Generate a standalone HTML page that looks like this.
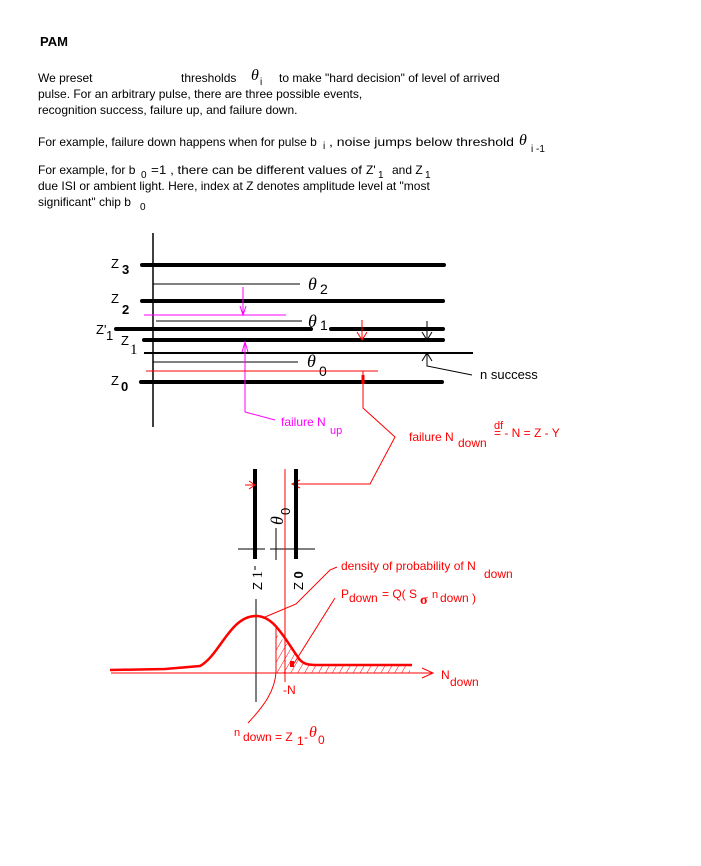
<!DOCTYPE html>
<html><head><meta charset="utf-8"><style>
html,body{margin:0;padding:0;background:#fff;}
svg{display:block;font-family:"Liberation Sans",Arial,sans-serif;}
</style></head><body>
<svg width="701" height="866" viewBox="0 0 701 866" xmlns="http://www.w3.org/2000/svg">
<defs>
<pattern id="h" width="6" height="6" patternUnits="userSpaceOnUse" patternTransform="rotate(30)">
<line x1="0" y1="0" x2="0" y2="6" stroke="#f00" stroke-width="1"/>
</pattern>
</defs>
<text x="40" y="46" font-size="13" font-weight="bold">PAM</text>
<g font-size="12" fill="#000">
<text x="38" y="82">We preset</text>
<text x="181" y="82">thresholds</text>
<text x="251" y="80" font-family="Liberation Serif,serif" font-style="italic" font-size="16">θ</text>
<text x="260" y="85" font-size="10">i</text>
<text x="279" y="82">to make "hard decision" of level of arrived</text>
<text x="38" y="98">pulse. For an arbitrary pulse, there are three possible events,</text>
<text x="38" y="114">recognition success, failure up, and failure down.</text>
<text x="38" y="146">For example, failure down happens when for pulse b</text>
<text x="323" y="149" font-size="10">i</text>
<text x="329" y="146" textLength="185" lengthAdjust="spacingAndGlyphs">, noise jumps below threshold</text>
<text x="519" y="145" font-family="Liberation Serif,serif" font-style="italic" font-size="16">θ</text>
<text x="531" y="152" font-size="10">i -1</text>
<text x="38" y="174">For example, for b</text>
<text x="141" y="178" font-size="10">0</text>
<text x="151" y="174" textLength="211" lengthAdjust="spacingAndGlyphs">=1 , there can be different values of</text>
<text x="366" y="174">Z'</text>
<text x="378" y="178" font-size="10">1</text>
<text x="392" y="174">and Z</text>
<text x="425" y="178" font-size="10">1</text>
<text x="38" y="190">due ISI or ambient light. Here, index at Z denotes amplitude level at "most</text>
<text x="38" y="206">significant" chip b</text>
<text x="140" y="210" font-size="10">0</text>
</g>

<!-- upper diagram -->
<line x1="153" y1="233" x2="153" y2="427" stroke="#000" stroke-width="1.5"/>
<g stroke="#000" stroke-width="4" stroke-linecap="round">
<line x1="142" y1="265" x2="444" y2="265"/>
<line x1="142" y1="301" x2="443" y2="301"/>
<line x1="116" y1="329" x2="311" y2="329"/>
<line x1="331" y1="329" x2="443" y2="329"/>
<line x1="144" y1="340" x2="443" y2="340"/>
<line x1="141" y1="382" x2="442" y2="382"/>
</g>
<g stroke="#000" stroke-width="1">
<line x1="153" y1="284" x2="300" y2="284"/>
<line x1="156" y1="321" x2="302" y2="321"/>
<line x1="144" y1="353" x2="473" y2="353" stroke-width="2"/>
<line x1="153" y1="362" x2="298" y2="362"/>
<line x1="427" y1="321" x2="427" y2="340"/>
<polyline points="422,332 427,340 432,332" fill="none"/>
<polyline points="422,361 427,353 432,361" fill="none"/>
<polyline points="427,353 427,366 472,375" fill="none"/>
</g>
<g font-size="13">
<text x="111" y="268">Z</text><text x="122" y="274" font-weight="bold">3</text>
<text x="111" y="303">Z</text><text x="122" y="314" font-weight="bold">2</text>
<text x="96" y="334">Z'</text><text x="106" y="340">1</text>
<text x="121" y="345">Z</text><text x="130" y="354" font-family="Liberation Serif,serif" font-size="15">1</text>
<text x="111" y="385">Z</text><text x="121" y="391" font-weight="bold">0</text>
<text x="480" y="379">n success</text>
</g>
<g font-family="Liberation Serif,serif" font-style="italic" font-size="18">
<text x="308" y="290">θ</text><text x="308" y="327">θ</text><text x="307" y="367">θ</text>
</g>
<g font-size="14"><text x="320" y="294">2</text><text x="320" y="330">1</text><text x="319" y="376">0</text></g>
<!-- magenta -->
<g stroke="#f0f" stroke-width="1" fill="none">
<line x1="144" y1="315" x2="286" y2="315"/>
<line x1="243" y1="287" x2="243" y2="315"/>
<polyline points="240,306 243,315 246,306"/>
<polyline points="245,412 245,342"/>
<polyline points="242,352 245,342 248,352"/>
<polyline points="245,412 275,420"/>
</g>
<text x="281" y="426" font-size="12" fill="#f0f">failure  N</text>
<text x="330" y="434" font-size="11" fill="#f0f">up</text>
<!-- red upper -->
<g stroke="#f00" stroke-width="1" fill="none">
<line x1="146" y1="371" x2="378" y2="371"/>
<line x1="362" y1="320" x2="362" y2="340"/>
<polyline points="357,332 362,340 367,332"/>
<polyline points="363,371 363,408 395,437 370,484 292,484"/>
<polyline points="300,480 292,484 300,488"/>
<line x1="363" y1="375" x2="363" y2="384" stroke-width="3"/>
</g>
<text x="409" y="441" font-size="12" fill="#f00">failure N</text>
<text x="458" y="447" font-size="12" fill="#f00">down</text>
<text x="494" y="437" font-size="12" fill="#f00">=  - N = Z - Y</text>
<text x="494" y="429" font-size="11" fill="#f00">df</text>

<!-- lower diagram -->
<g stroke="#000" stroke-width="4">
<line x1="255" y1="469" x2="255" y2="559"/>
<line x1="296" y1="469" x2="296" y2="559"/>
</g>
<g stroke="#000" stroke-width="1">
<line x1="238" y1="549" x2="265" y2="549"/>
<line x1="270" y1="549" x2="315" y2="549"/>
<line x1="276" y1="528" x2="276" y2="560"/>
<line x1="255" y1="566" x2="255" y2="570"/>
<line x1="256" y1="599" x2="256" y2="702"/>
</g>
<g stroke="#f00" stroke-width="1" fill="none">
<line x1="285" y1="469" x2="285" y2="682"/>
<line x1="245" y1="485" x2="255" y2="485"/>
<polyline points="249,481 255,485 249,489"/>
<line x1="111" y1="673" x2="433" y2="673"/>
<polyline points="422,668 433,673 422,678"/>
<path d="M276,625 L276,672 C275,690 265,705 248,723"/>
<polyline points="265,617 296,604 330,570 337,567"/>
<line x1="293" y1="665" x2="335" y2="598"/>
</g>
<path d="M276,634 C285,640 292,652 305,662 L310,665 L410,665 L410,673 L276,673 Z" fill="url(#h)"/>
<path d="M110,670 L165,669 L200,666 C220,655 230,616 256,616 C275,616 285,640 300,660 C305,665 310,665 320,665 L412,665" fill="none" stroke="#f00" stroke-width="2.5"/>
<rect x="290" y="661" width="4" height="6" fill="#f00"/>
<g font-size="13" transform="translate(262,590) rotate(-90)"><text>Z <tspan font-family="Liberation Serif,serif" font-size="15">1</tspan></text></g>
<g font-size="13" transform="translate(303,590) rotate(-90)"><text>Z <tspan font-weight="bold">0</tspan></text></g>
<g transform="translate(283,525) rotate(-90)"><text font-family="Liberation Serif,serif" font-style="italic" font-size="18">θ</text><text x="10" y="7" font-size="13">0</text></g>
<g font-size="12" fill="#f00">
<text x="441" y="679">N</text><text x="450" y="686">down</text>
<text x="283" y="694">-N</text>
<text x="341" y="570">density of probability of  N</text><text x="484" y="578">down</text>
<text x="341" y="598">P</text><text x="349" y="602">down</text><text x="382" y="598">= Q( S</text>
<text x="420" y="604" font-weight="bold" font-family="Liberation Serif,serif" font-size="14">σ</text>
<text x="432" y="598" font-size="11">n</text><text x="440" y="602">down )</text>
<text x="234" y="736" font-size="11">n</text><text x="243" y="741">down = Z</text><text x="297" y="745">1</text><text x="304" y="741">-</text>
<text x="309" y="737" font-family="Liberation Serif,serif" font-style="italic" font-size="16">θ</text><text x="318" y="744">0</text>
</g>
</svg>
</body></html>
